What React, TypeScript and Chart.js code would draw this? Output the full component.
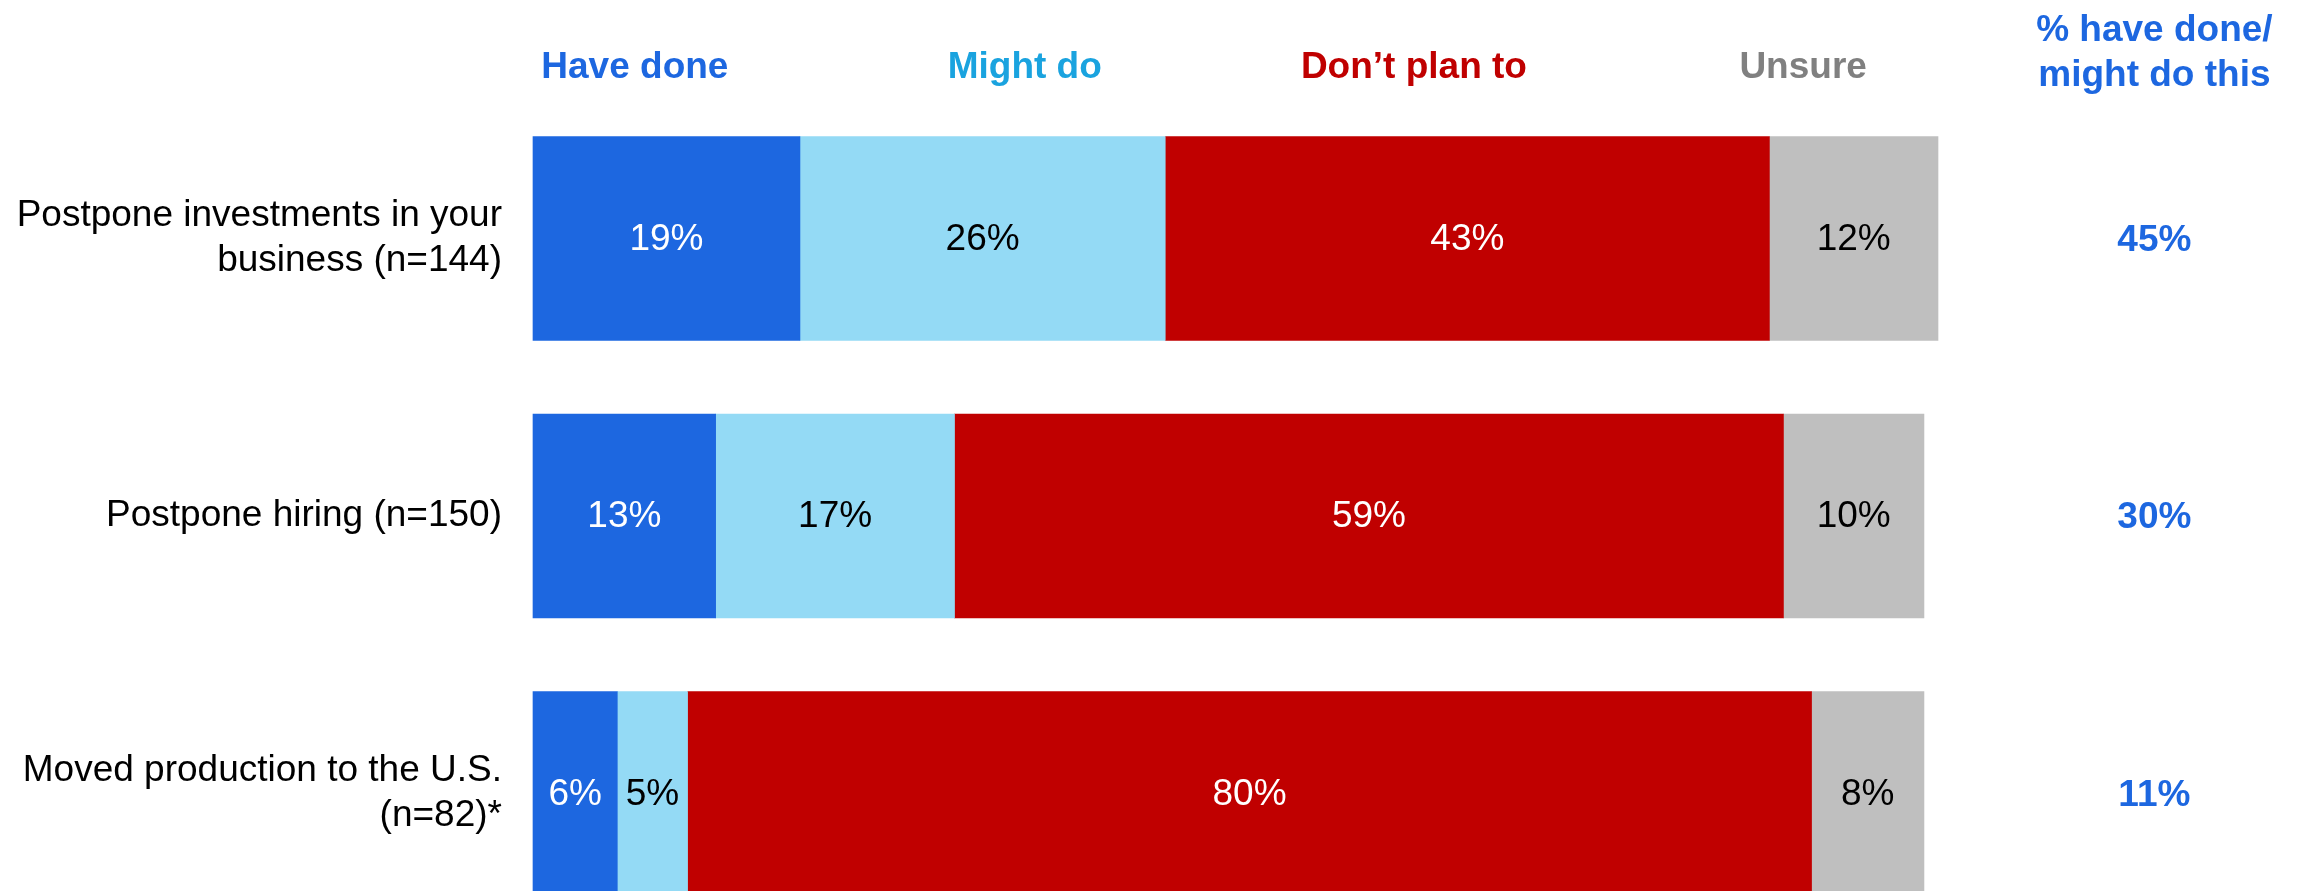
import React, { useEffect, useRef } from "react";
import { Chart, registerables } from "chart.js";

Chart.register(...registerables);

const categories: (string | string[])[] = [
  ["Postpone investments in your", "business (n=144)"],
  "Postpone hiring (n=150)",
  ["Moved production to the U.S.", "(n=82)*"],
];
const seriesNames = ["Have done", "Might do", "Don\u2019t plan to", "Unsure"];
const haveDone = [19, 13, 6];
const mightDo = [26, 17, 5];
const dontPlan = [43, 59, 80];
const unsure = [12, 10, 8];
const totalDoneOrMight = [45, 30, 11];
const totalHeader = ["% have done/", "might do this"];

const FONT = '"Liberation Sans", Arial, Helvetica, sans-serif';
const BLUE = "#1D67E0";
const barColors = [BLUE, "#94DAF5", "#C00000", "#BFBFBF"];
const labelColors = ["#FFFFFF", "#000000", "#FFFFFF", "#000000"];
const headerColors = [BLUE, "#1AA3DF", "#C00000", "#808080"];
// header positions expressed in x-axis units (layout only)
const headerPos = [7.25, 35.0, 62.7, 90.4];
const totalPos = 115.4;

const overlayPlugin = {
  id: "overlay",
  afterDatasetsDraw(chart: any) {
    const ctx = chart.ctx;
    const xs = chart.scales.x;
    ctx.save();
    // segment value labels
    ctx.font = `37px ${FONT}`;
    ctx.textAlign = "center";
    ctx.textBaseline = "middle";
    chart.data.datasets.forEach((ds: any, di: number) => {
      const meta = chart.getDatasetMeta(di);
      meta.data.forEach((el: any, i: number) => {
        const v = ds.data[i];
        ctx.fillStyle = labelColors[di];
        ctx.fillText(`${v}%`, (el.x + el.base) / 2, el.y + 1);
      });
    });
    // header labels
    ctx.font = `bold 37px ${FONT}`;
    ctx.textBaseline = "alphabetic";
    seriesNames.forEach((name, i) => {
      ctx.fillStyle = headerColors[i];
      ctx.fillText(name, xs.getPixelForValue(headerPos[i]), 78);
    });
    const tx = xs.getPixelForValue(totalPos);
    ctx.fillStyle = BLUE;
    ctx.fillText(totalHeader[0], tx, 41);
    ctx.fillText(totalHeader[1], tx, 86);
    // totals column
    ctx.textBaseline = "middle";
    const meta0 = chart.getDatasetMeta(0);
    totalDoneOrMight.forEach((t, i) => {
      ctx.fillText(`${t}%`, tx, meta0.data[i].y + 2);
    });
    ctx.restore();
  },
};

export default function App() {
  const ref = useRef<HTMLCanvasElement | null>(null);
  useEffect(() => {
    document.body.style.margin = "0";
    document.body.style.overflow = "hidden";
    const seriesData = [haveDone, mightDo, dontPlan, unsure];
    const chart = new Chart(ref.current as HTMLCanvasElement, {
      type: "bar",
      data: {
        labels: categories as any,
        datasets: seriesData.map((d, i) => ({
          label: seriesNames[i],
          data: d,
          backgroundColor: barColors[i],
          borderWidth: 0,
          barThickness: 204,
          clip: false as any,
        })),
      },
      options: {
        indexAxis: "y",
        animation: false,
        responsive: false,
        devicePixelRatio: 1,
        layout: { padding: { left: 0, right: 364, top: 238.5, bottom: 97.5 } },
        plugins: {
          legend: { display: false },
          tooltip: { enabled: false },
        },
        scales: {
          x: {
            stacked: true,
            min: 0,
            max: 100,
            display: false,
          },
          y: {
            stacked: true,
            offset: false,
            grid: { display: false, drawTicks: false },
            border: { display: false },
            ticks: {
              color: "#000000",
              padding: 31,
              font: { family: FONT, size: 37, lineHeight: 1.22 },
            },
            afterFit(scale: any) {
              scale.width = 533;
            },
          },
        },
      },
      plugins: [overlayPlugin],
    });
    return () => chart.destroy();
  }, []);
  return (
    <div style={{ position: "absolute", left: 0, top: 0, width: 2302, height: 891, background: "#fff" }}>
      <canvas ref={ref} width={2302} height={891} />
    </div>
  );
}
